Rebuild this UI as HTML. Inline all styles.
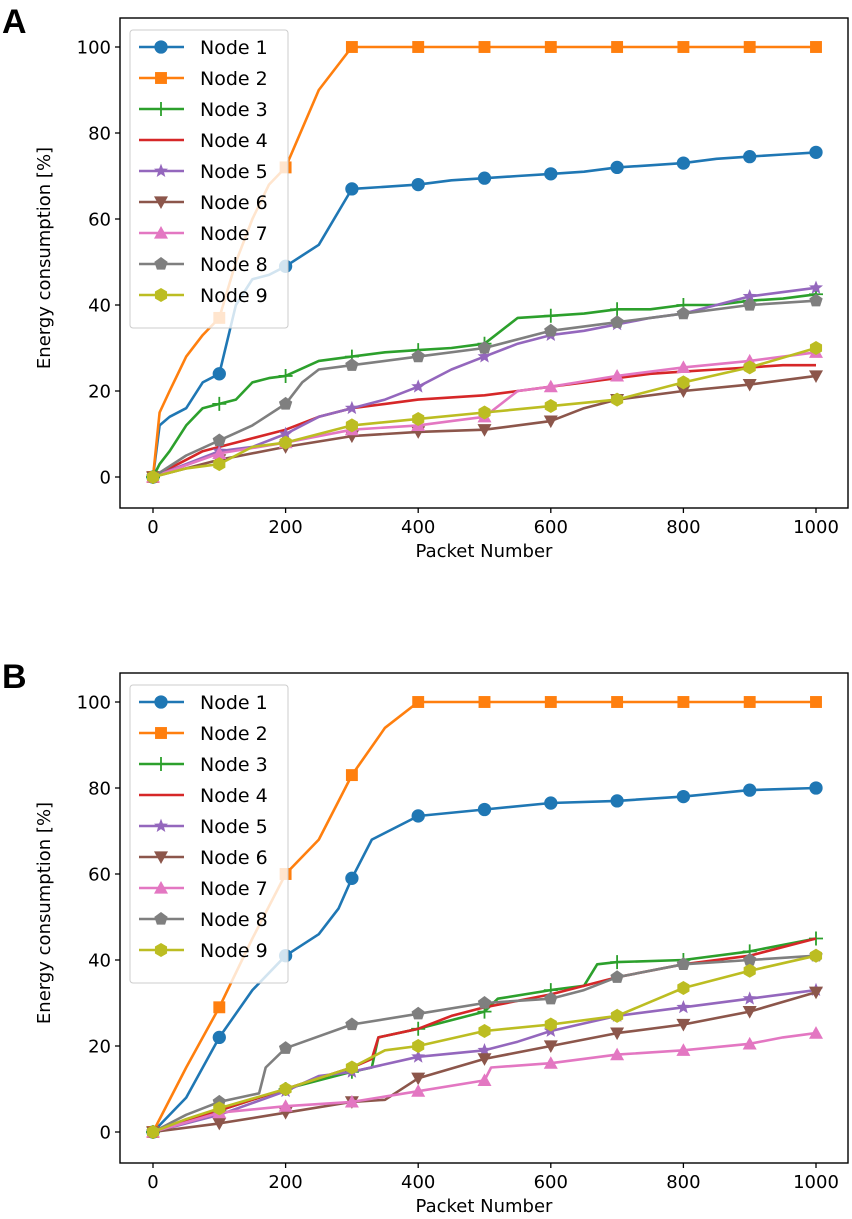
<!DOCTYPE html>
<html><head><meta charset="utf-8"><style>
html,body{margin:0;padding:0;background:#fff;}
svg{display:block;font-family:"DejaVu Sans","Liberation Sans",sans-serif;}
</style></head><body>
<svg id="chart" width="852" height="1219" viewBox="0 0 852 1219" xmlns="http://www.w3.org/2000/svg"></svg>
<script>
const xTicks=[0,200,400,600,800,1000];
const yTicks=[0,20,40,60,80,100];
const nodeNames=["Node 1","Node 2","Node 3","Node 4","Node 5","Node 6","Node 7","Node 8","Node 9"];
const colors=["#1f77b4","#ff7f0e","#2ca02c","#d62728","#9467bd","#8c564b","#e377c2","#7f7f7f","#bcbd22"];
const markers=["o","s","+","","*","v","^","p","h"];
// Panel A data
const aX1=[0,10,25,50,75,100,125,150,175,200,250,300,350,400,450,500,550,600,650,700,750,800,850,900,950,1000];
const aY1=[0,12,14,16,22,24,40,46,47,49,54,67,67.5,68,69,69.5,70,70.5,71,72,72.5,73,74,74.5,75,75.5];
const aX2=[0,10,25,50,75,100,125,150,175,200,250,300,400,500,600,700,800,900,1000];
const aY2=[0,15,20,28,33,37,50,60,68,72,90,100,100,100,100,100,100,100,100];
const aX3=[0,10,25,50,75,100,125,150,175,200,250,300,350,400,450,500,550,600,650,700,750,800,850,900,950,1000];
const aY3=[0,3,6,12,16,17,18,22,23,23.5,27,28,29,29.5,30,31,37,37.5,38,39,39,40,40,41,41.5,42.5];
const aX4=[0,10,25,50,75,100,125,150,175,200,250,300,350,400,450,500,550,600,650,700,750,800,850,900,950,1000];
const aY4=[0,1,2,4,6,7,8,9,10,11,14,16,17,18,18.5,19,20,21,22,23,24,24.5,25,25.5,26,26];
const aX5=[0,100,150,200,250,300,350,400,450,500,550,600,650,700,750,800,850,900,950,1000];
const aY5=[0,6,7,10,14,16,18,21,25,28,31,33,34,35.5,37,38,40,42,43,44];
const aX6=[0,100,200,300,400,500,600,650,700,800,900,1000];
const aY6=[0,4,7,9.5,10.5,11,13,16,18,20,21.5,23.5];
const aX7=[0,100,200,300,400,450,500,550,600,700,800,900,1000];
const aY7=[0,5.5,8,11,12,13,14,20,21,23.5,25.5,27,29];
const aX8=[0,50,100,150,200,225,250,300,400,500,600,700,800,900,1000];
const aY8=[0,5,8.5,12,17,22,25,26,28,30,34,36,38,40,41];
const aX9=[0,50,100,150,200,300,400,500,600,700,800,900,1000];
const aY9=[0,2,3,7,8,12,13.5,15,16.5,18,22,25.5,30];
// Panel B data
const bX1=[0,50,100,150,200,250,280,300,330,400,500,600,700,800,900,1000];
const bY1=[0,8,22,33,41,46,52,59,68,73.5,75,76.5,77,78,79.5,80];
const bX2=[0,50,100,150,200,250,300,350,400,500,600,700,800,900,1000];
const bY2=[0,15,29,45,60,68,83,94,100,100,100,100,100,100,100];
const bX3=[0,100,200,300,330,340,400,500,520,600,650,670,700,800,900,1000];
const bY3=[0,5,10,14,15,22,24,28,31,33,34,39,39.5,40,42,45];
const bX4=[0,100,200,300,330,340,400,450,500,600,700,800,900,1000];
const bY4=[0,5,10,15,17,22,24,27,29,32,36,39,41,45];
const bX5=[0,100,200,250,300,400,500,550,600,700,800,900,1000];
const bY5=[0,4,9.5,13,14,17.5,19,21,23.5,27,29,31,33];
const bX6=[0,100,200,300,350,400,500,600,700,800,900,1000];
const bY6=[0,2,4.5,7,7.5,12.5,17,20,23,25,28,32.5];
const bX7=[0,100,200,300,400,500,510,600,700,800,900,950,1000];
const bY7=[0,4.5,6,7,9.5,12,15,16,18,19,20.5,22,23];
const bX8=[0,50,100,160,170,200,300,400,500,600,650,700,800,900,1000];
const bY8=[0,4,7,9,15,19.5,25,27.5,30,31,33,36,39,40,41];
const bX9=[0,50,100,200,300,350,400,500,600,700,800,900,1000];
const bY9=[0,3,5.5,10,15,19,20,23.5,25,27,33.5,37.5,41];

const NS="http://www.w3.org/2000/svg";
const svg=document.getElementById('chart');
function mk(tag,attrs,parent){const e=document.createElementNS(NS,tag);for(const k in attrs)e.setAttribute(k,attrs[k]);(parent||svg).appendChild(e);return e;}

function marker(g,type,cx,cy,color,s){
  let e;
  const r=s/2;
  if(type==="o"){e=mk('circle',{cx:cx,cy:cy,r:r*0.95,fill:color},g);}
  else if(type==="s"){e=mk('rect',{x:cx-r*0.85,y:cy-r*0.85,width:r*1.7,height:r*1.7,fill:color},g);}
  else if(type==="+"){e=mk('path',{d:`M${cx-r} ${cy}H${cx+r}M${cx} ${cy-r}V${cy+r}`,stroke:color,'stroke-width':1.8,fill:'none'},g);}
  else {
    let pts=[];
    if(type==="*"){for(let i=0;i<10;i++){const a=-Math.PI/2+i*Math.PI/5;const rr=i%2?r*0.45:r*1.05;pts.push([cx+rr*Math.cos(a),cy+rr*Math.sin(a)]);}}
    else if(type==="v"){pts=[[cx-r,cy-r*0.8],[cx+r,cy-r*0.8],[cx,cy+r]];}
    else if(type==="^"){pts=[[cx-r,cy+r*0.8],[cx+r,cy+r*0.8],[cx,cy-r]];}
    else if(type==="p"){for(let i=0;i<5;i++){const a=-Math.PI/2+i*2*Math.PI/5;pts.push([cx+r*Math.cos(a),cy+r*Math.sin(a)]);}}
    else if(type==="h"){for(let i=0;i<6;i++){const a=-Math.PI/2+i*Math.PI/3;pts.push([cx+r*Math.cos(a),cy+r*Math.sin(a)]);}}
    e=mk('polygon',{points:pts.map(p=>p.join(',')).join(' '),fill:color},g);
  }
  return e;
}

function interp(xs,ys,x){
  for(let i=0;i<xs.length-1;i++){if(x>=xs[i]&&x<=xs[i+1]){const t=(x-xs[i])/(xs[i+1]-xs[i]||1);return ys[i]+t*(ys[i+1]-ys[i]);}}
  return ys[ys.length-1];
}

function panel(letter,top,series){
  const F={l:120,r:848,t:top+18,b:top+508};
  const sx=v=>153+(v/1000)*(816-153);
  const sy=v=>(top+477)-(v/100)*(430);
  const g=mk('g',{});
  
  
  const lab=mk('text',{x:2,y:top+33,'font-size':34,'font-weight':'bold','font-family':'"Liberation Sans",sans-serif'},g);
  lab.textContent=letter;
  
  
  series.forEach((s,i)=>{
    const sg=mk('g',{},g);
    
    
    const d=s[0].map((x,j)=>(j?'L':'M')+sx(x).toFixed(1)+' '+sy(s[1][j]).toFixed(1)).join('');
    mk('path',{d:d,stroke:colors[i],'stroke-width':2.6,fill:'none','stroke-linejoin':'round'},sg);
    if(markers[i]){for(let x=0;x<=1000;x+=100){marker(sg,markers[i],sx(x),sy(interp(s[0],s[1],x)),colors[i],14);}}
  });
  const fr=mk('rect',{x:F.l,y:F.t,width:F.r-F.l,height:F.b-F.t,fill:'none',stroke:'#000','stroke-width':1.4},g);
  
  
  xTicks.forEach(v=>{
    mk('line',{x1:sx(v),x2:sx(v),y1:F.b,y2:F.b+5,stroke:'#000','stroke-width':1.3},g);
    const t=mk('text',{x:sx(v),y:F.b+25,'text-anchor':'middle','font-size':18},g);t.textContent=v;
    
    
  });
  yTicks.forEach(v=>{
    mk('line',{x1:F.l-5,x2:F.l,y1:sy(v),y2:sy(v),stroke:'#000','stroke-width':1.3},g);
    const t=mk('text',{x:F.l-9,y:sy(v)+6.5,'text-anchor':'end','font-size':18},g);t.textContent=v;
    
    
  });
  const xt=mk('text',{x:(F.l+F.r)/2,y:F.b+49,'text-anchor':'middle','font-size':18},g);xt.textContent='Packet Number';
  
  
  const cy=(F.t+F.b)/2-5;
  const yt=mk('text',{x:50,y:cy,'text-anchor':'middle','font-size':18,transform:`rotate(-90 50 ${cy})`},g);yt.textContent='Energy consumption [%]';
  
  
  const lg=mk('g',{},g);
  
  
  mk('rect',{x:130,y:top+30,width:158,height:298,fill:'#fff','fill-opacity':0.8,stroke:'#ccc','stroke-width':1,rx:3},lg);
  nodeNames.forEach((n,i)=>{
    const y=top+47+i*31;
    const eg=mk('g',{},lg);
    
    
    mk('line',{x1:139,x2:184,y1:y,y2:y,stroke:colors[i],'stroke-width':2.6},eg);
    if(markers[i])marker(eg,markers[i],161,y,colors[i],14);
    const t=mk('text',{x:200,y:y+7,'font-size':19},eg);t.textContent=n;
  });
}
panel('A',0,[[aX1,aY1],[aX2,aY2],[aX3,aY3],[aX4,aY4],[aX5,aY5],[aX6,aY6],[aX7,aY7],[aX8,aY8],[aX9,aY9]]);
panel('B',655,[[bX1,bY1],[bX2,bY2],[bX3,bY3],[bX4,bY4],[bX5,bY5],[bX6,bY6],[bX7,bY7],[bX8,bY8],[bX9,bY9]]);
</script>
</body></html>
